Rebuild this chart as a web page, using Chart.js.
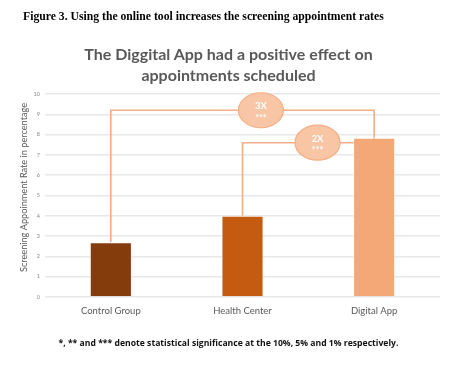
<!DOCTYPE html>
<html>
<head>
<meta charset="utf-8">
<script src="https://cdn.jsdelivr.net/npm/chart.js@4.4.1/dist/chart.umd.min.js"></script>
<style>
  html, body { margin: 0; padding: 0; background: #fff; }
  #wrap { position: relative; width: 457px; height: 373px; overflow: hidden; }
  #chart { position: absolute; left: 0; top: 0; }
  .caption { position: absolute; left: 23px; top: 10px; font-family: "Liberation Serif", serif; font-weight: bold; font-size: 11.7px; color: #000; white-space: nowrap; }
  .title { position: absolute; left: 0; width: 457px; top: 43px; text-align: center; font-family: Lato, sans-serif; font-weight: bold; font-size: 16px; line-height: 21px; color: #595959; }
  .note { position: absolute; left: 0; width: 457px; top: 337px; text-align: center; font-family: "Open Sans", sans-serif; font-weight: bold; font-size: 8.65px; color: #111; white-space: nowrap; }
</style>
</head>
<body>
<div id="wrap">
  <canvas id="chart" width="457" height="373"></canvas>
  <div class="caption">Figure 3. Using the online tool increases the screening appointment rates</div>
  <div class="title">The Diggital App had a positive effect on<br>appointments scheduled</div>
  <div class="note">*, ** and *** denote statistical significance at the 10%, 5% and 1% respectively.</div>
</div>
<script>
// data
var categories = ["Control Group", "Health Center", "Digital App"];
var rates = [2.7, 4.0, 7.85];
var barColors = ["#843C0C", "#C55A11", "#F4A878"];
var yTicks = [0, 1, 2, 3, 4, 5, 6, 7, 8, 9, 10];
var yTitle = "Screening Appoinment Rate in percentage";

// comparison brackets: from bar, to bar, height of the bracket, label
var compFrom = [0, 1];
var compTo = [2, 2];
var compLevel = [9.2, 7.6];
var compLabel = ["3X", "2X"];
var compStars = ["***", "***"];

var bracketPlugin = {
  id: "brackets",
  beforeDatasetsDraw: function (chart) {
    var ctx = chart.ctx, x = chart.scales.x, y = chart.scales.y;
    ctx.save();
    ctx.strokeStyle = "#F4AE85";
    ctx.lineWidth = 1.6;
    for (var i = 0; i < compFrom.length; i++) {
      var x1 = x.getPixelForValue(compFrom[i]);
      var x2 = x.getPixelForValue(compTo[i]);
      var yl = y.getPixelForValue(compLevel[i]);
      ctx.beginPath();
      ctx.moveTo(x1, y.getPixelForValue(rates[compFrom[i]]));
      ctx.lineTo(x1, yl);
      ctx.lineTo(x2, yl);
      ctx.lineTo(x2, y.getPixelForValue(rates[compTo[i]]));
      ctx.stroke();
    }
    ctx.restore();
  },
  afterDatasetsDraw: function (chart) {
    var ctx = chart.ctx, x = chart.scales.x, y = chart.scales.y;
    ctx.save();
    for (var i = 0; i < compFrom.length; i++) {
      var x1 = x.getPixelForValue(compFrom[i]);
      var x2 = x.getPixelForValue(compTo[i]);
      var cx = x1 + (x2 - x1) * 0.57;
      var cy = y.getPixelForValue(compLevel[i]);
      ctx.beginPath();
      ctx.ellipse(cx, cy, 22.5, 17.5, 0, 0, Math.PI * 2);
      ctx.fillStyle = "#F8C6A4";
      ctx.fill();
      ctx.strokeStyle = "#F4AE85";
      ctx.lineWidth = 1.2;
      ctx.stroke();
      ctx.fillStyle = "#fff";
      ctx.textAlign = "center";
      ctx.textBaseline = "middle";
      ctx.font = "bold 9.5px Lato, sans-serif";
      ctx.fillText(compLabel[i], cx, cy - 4);
      ctx.font = "bold 9px Lato, sans-serif";
      ctx.fillText(compStars[i], cx, cy + 7.5);
    }
    // y axis title, placed a little above the plot centre as in the picture
    ctx.translate(24, (chart.chartArea.top + chart.chartArea.bottom) / 2 - 8);
    ctx.rotate(-Math.PI / 2);
    ctx.fillStyle = "#595959";
    ctx.font = "9.2px Lato, sans-serif";
    ctx.fillText(yTitle, 0, 0);
    ctx.restore();
  }
};

new Chart(document.getElementById("chart"), {
  type: "bar",
  data: {
    labels: categories,
    datasets: [{
      data: rates,
      backgroundColor: barColors,
      borderColor: "rgba(255,255,255,0.5)",
      borderWidth: 1,
      barPercentage: 0.32,
      categoryPercentage: 1
    }]
  },
  options: {
    responsive: false,
    animation: false,
    layout: { padding: { top: 94, left: 0, right: 17, bottom: 0 } },
    plugins: {
      legend: { display: false },
      tooltip: { enabled: false },
      title: { display: false }
    },
    scales: {
      x: {
        grid: { display: false, drawTicks: false },
        border: { display: false },
        ticks: { color: "#595959", font: { family: "Lato, sans-serif", size: 9.5 }, padding: 8 },
        afterFit: function (s) { s.height = 76; }
      },
      y: {
        min: 0,
        max: 10,
        afterBuildTicks: function (s) { s.ticks = yTicks.map(function (v) { return { value: v }; }); },
        grid: { color: "#E8E8E8", lineWidth: 1.5, drawTicks: false },
        border: { display: false },
        ticks: { color: "#888", font: { family: "Lato, sans-serif", size: 5.5 }, padding: 5 },
        afterFit: function (s) { s.width = 45; }
      }
    }
  },
  plugins: [bracketPlugin]
});
</script>
</body>
</html>
